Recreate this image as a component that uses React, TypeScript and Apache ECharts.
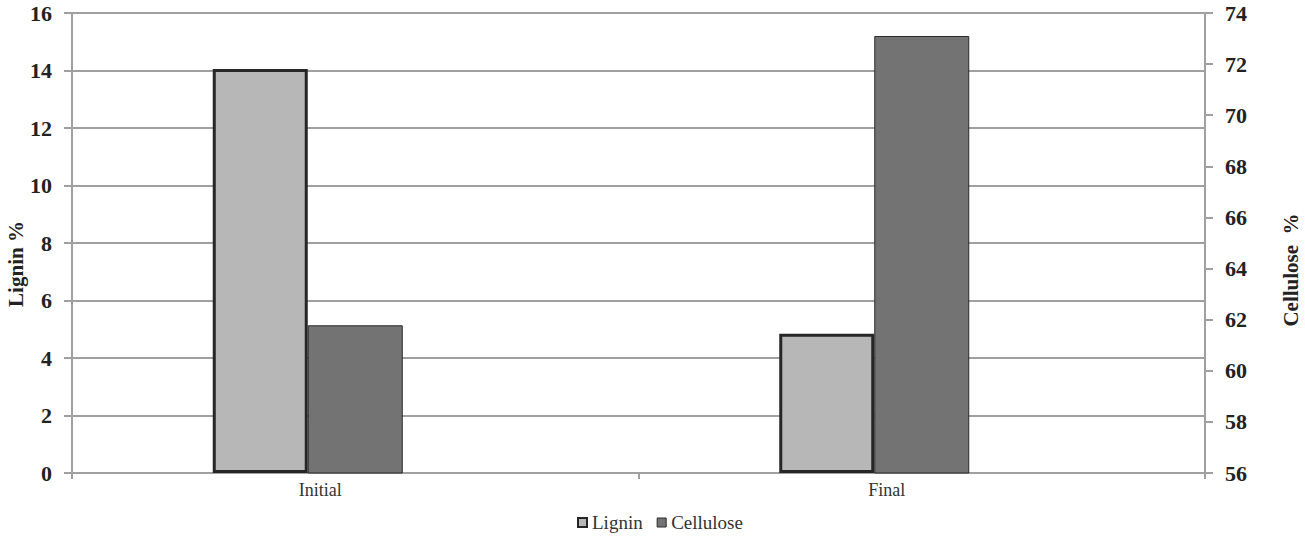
import React, { useEffect, useRef } from "react";
import * as echarts from "echarts";

const categories = ["Initial", "Final"];
const ligninValues = [14.05, 4.84];
const celluloseValues = [61.78, 73.1];
const leftTicks = { min: 0, max: 16, interval: 2 };
const rightTicks = { min: 56, max: 74, interval: 2 };

const FONT = "Liberation Serif";

export default function App() {
  const ref = useRef<HTMLDivElement>(null);
  useEffect(() => {
    if (!ref.current) return;
    const chart = echarts.init(ref.current, undefined, { renderer: "svg" });
    chart.setOption({
      animation: false,
      backgroundColor: "#ffffff",
      textStyle: { fontFamily: FONT },
      grid: { left: 72, right: 100, top: 13, bottom: 63, containLabel: false, outerBoundsMode: "none" },
      legend: {
        data: [
          { name: "Lignin", itemStyle: { color: "#b7b7b7", borderColor: "#262626", borderWidth: 2 } },
          { name: "Cellulose", itemStyle: { color: "#737373", borderColor: "#2a2a2a", borderWidth: 1 } },
        ],
        left: 572,
        top: 508,
        itemWidth: 9,
        itemHeight: 9,
        itemGap: 14,
        icon: "rect",
        textStyle: { fontFamily: FONT, fontSize: 19, color: "#333333", padding: [8, 0, 0, 0] },
      },
      xAxis: {
        type: "category",
        data: categories,
        axisLine: { lineStyle: { color: "#a0a0a0", width: 2 } },
        axisTick: { show: true, length: 6, lineStyle: { color: "#a0a0a0", width: 2 } },
        axisLabel: {
          fontFamily: FONT,
          fontSize: 18,
          color: "#333333",
          margin: 8,
          padding: [0, 70, 0, 0],
        },
      },
      yAxis: [
        {
          type: "value",
          ...leftTicks,
          position: "left",
          name: "Lignin %",
          nameLocation: "middle",
          nameGap: 46,
          nameRotate: 90,
          nameMoveOverlap: false,
          nameTextStyle: { fontFamily: FONT, fontSize: 21, fontWeight: "bold", color: "#222222", padding: [0, 0, 0, -42] },
          axisLine: { show: true, lineStyle: { color: "#a0a0a0", width: 2 } },
          axisTick: { show: true, length: 8, lineStyle: { color: "#a0a0a0", width: 2 } },
          axisLabel: { fontFamily: FONT, fontSize: 22, fontWeight: "bold", color: "#222222", margin: 20 },
          splitLine: { show: true, lineStyle: { color: "#a0a0a0", width: 2 } },
        },
        {
          type: "value",
          ...rightTicks,
          position: "right",
          name: "Cellulose  %",
          nameLocation: "middle",
          nameGap: 75,
          nameRotate: 90,
          nameTextStyle: { fontFamily: FONT, fontSize: 21, fontWeight: "bold", color: "#222222", padding: [0, 0, 0, -54] },
          axisLine: { show: true, lineStyle: { color: "#a0a0a0", width: 2 } },
          axisTick: { show: true, length: 8, lineStyle: { color: "#a0a0a0", width: 2 } },
          axisLabel: { fontFamily: FONT, fontSize: 22, fontWeight: "bold", color: "#222222", margin: 20 },
          splitLine: { show: false },
        },
      ],
      series: [
        {
          name: "Lignin",
          type: "bar",
          yAxisIndex: 0,
          data: ligninValues,
          barWidth: 95,
          barGap: "0%",
          itemStyle: { color: "#b7b7b7", borderColor: "#262626", borderWidth: 3 },
        },
        {
          name: "Cellulose",
          type: "bar",
          yAxisIndex: 1,
          data: celluloseValues,
          barWidth: 95,
          barGap: "0%",
          itemStyle: { color: "#737373", borderColor: "#2a2a2a", borderWidth: 1 },
        },
        {
          name: "spacer",
          type: "bar",
          yAxisIndex: 0,
          data: [null, null],
          barWidth: 95,
          barGap: "0%",
          itemStyle: { color: "transparent" },
        },
      ],
    });
    return () => chart.dispose();
  }, []);
  return <div ref={ref} style={{ width: 1305, height: 536, position: "absolute", left: 0, top: 0 }} />;
}
